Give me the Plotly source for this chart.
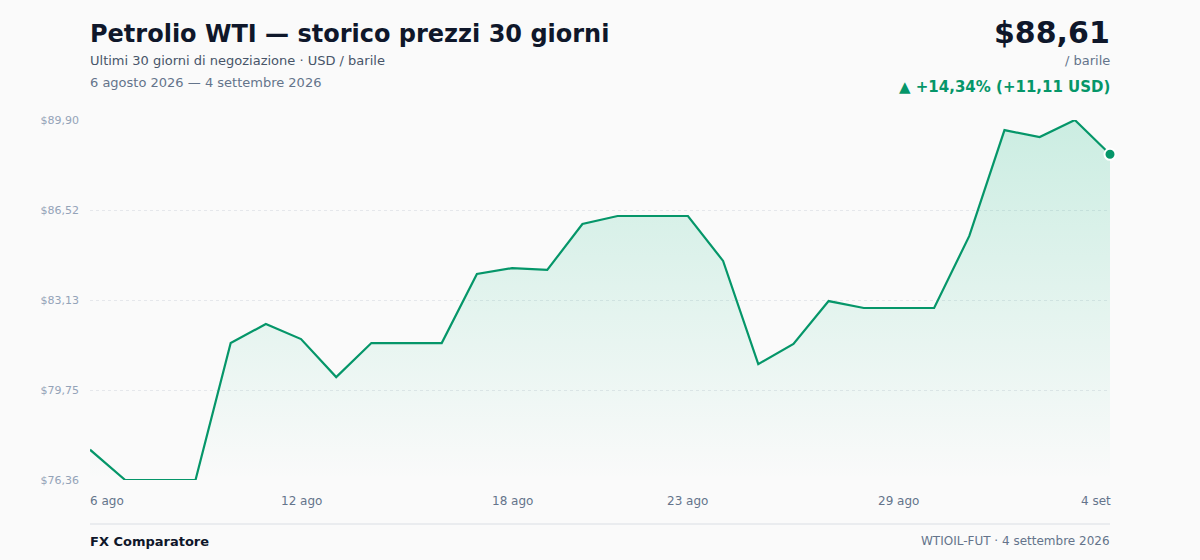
import numpy as np
import pandas as pd
import plotly.graph_objects as go

# daily WTI closes, 6 Aug 2026 -> 4 Sep 2026
dates = pd.date_range("2026-08-06", "2026-09-04", freq="D")
prices = [77.50, 76.36, 76.36, 76.36, 81.51, 82.23, 81.66, 80.23, 81.51, 81.51,
          81.51, 84.11, 84.33, 84.26, 85.99, 86.29, 86.29, 86.29, 84.60, 80.72,
          81.48, 83.09, 82.83, 82.83, 82.83, 85.54, 89.52, 89.26, 89.90, 88.61]

tick_dates = ["2026-08-06", "2026-08-12", "2026-08-18", "2026-08-23", "2026-08-29", "2026-09-04"]
tick_text = ["6 ago", "12 ago", "18 ago", "23 ago", "29 ago", "4 set"]

GREEN = "#059669"
FONT = "DejaVu Sans"
BG = "#fafafa"

ymin, ymax = min(prices), max(prices)
yticks = np.linspace(ymin, ymax, 5)
ytext = ["$" + f"{v:.2f}".replace(".", ",") for v in yticks]

change = prices[-1] - prices[0]
pct = change / prices[0] * 100

fig = go.Figure()

# invisible baseline so the fill stops at the bottom of the axis
fig.add_trace(go.Scatter(
    x=dates, y=[ymin] * len(dates), mode="lines",
    line=dict(width=0), hoverinfo="skip", showlegend=False, cliponaxis=False,
))
fig.add_trace(go.Scatter(
    x=dates, y=prices, mode="lines",
    line=dict(color=GREEN, width=2.2),
    fill="tonexty",
    fillgradient=dict(
        type="vertical",
        colorscale=[[0, "rgba(16,185,129,0.0)"], [1, "rgba(16,185,129,0.2)"]],
        start=ymin, stop=ymax,
    ),
    showlegend=False, cliponaxis=False,
    hovertemplate="%{x|%d/%m}: $%{y:.2f}<extra></extra>",
))
fig.add_trace(go.Scatter(
    x=[dates[-1]], y=[prices[-1]], mode="markers",
    marker=dict(color=GREEN, size=11, line=dict(color="white", width=2)),
    showlegend=False, cliponaxis=False, hoverinfo="skip",
))

annotations = []
for i, (d, t) in enumerate(zip(tick_dates, tick_text)):
    anchor, shift = "center", 0
    if i == 0:
        anchor, shift = "left", -2
    elif i == len(tick_dates) - 1:
        anchor, shift = "right", 3
    annotations.append(dict(
        x=d, y=0, xref="x", yref="paper", text=t, showarrow=False,
        xanchor=anchor, yanchor="middle", yshift=-21, xshift=shift,
        font=dict(family=FONT, size=12, color="#64748b"),
    ))

def ptext(text, x, ypx, anchor, size, color, bold=False):
    # ypx is the pixel row in the 560px page; plot area spans rows 120..480
    if bold:
        text = "<b>" + text + "</b>"
    annotations.append(dict(
        x=x, y=(480 - ypx) / 360, xref="paper", yref="paper", text=text,
        showarrow=False, xanchor=anchor, yanchor="middle",
        xshift=-2 if anchor == "left" else 2,
        font=dict(family=FONT, size=size, color=color),
    ))

ptext("Petrolio WTI — storico prezzi 30 giorni", 0, 34, "left", 24, "#0f172a", True)
ptext("Ultimi 30 giorni di negoziazione · USD / barile", 0, 61, "left", 13, "#475569")
ptext("6 agosto 2026 — 4 settembre 2026", 0, 83, "left", 13, "#64748b")
ptext("$" + f"{prices[-1]:.2f}".replace(".", ","), 1, 32, "right", 30, "#0f172a", True)
ptext("/ barile", 1, 61, "right", 13, "#64748b")
ptext("▲ +" + f"{pct:.2f}".replace(".", ",") + "% (+" + f"{change:.2f}".replace(".", ",") + " USD)",
      1, 87, "right", 15, GREEN, True)
ptext("FX Comparatore", 0, 541, "left", 13, "#0f172a", True)
ptext("WTIOIL-FUT · 4 settembre 2026", 1, 541, "right", 12, "#64748b")

fig.update_layout(
    width=1200, height=560,
    margin=dict(l=90, r=90, t=120, b=80),
    paper_bgcolor=BG, plot_bgcolor=BG,
    font=dict(family=FONT),
    annotations=annotations,
    shapes=[dict(type="line", xref="paper", yref="paper", x0=0, x1=1,
                 y0=-44 / 360, y1=-44 / 360, line=dict(color="#e5e7eb", width=1.5))],
    xaxis=dict(range=[dates[0], dates[-1]], showgrid=False, zeroline=False,
               showticklabels=False, showline=False, fixedrange=True),
    yaxis=dict(range=[ymin, ymax], tickvals=yticks, ticktext=ytext,
               showgrid=True, gridcolor="#e5e7eb", griddash="dot", gridwidth=1,
               zeroline=False, showline=False, ticks="", ticklabelstandoff=10,
               tickfont=dict(family=FONT, size=11, color="#94a3b8")),
    hovermode="closest",
)

# drop the browser's default page margin so the figure sits flush at 0,0
fig.write_html("out.html", config={"displayModeBar": False},
               post_script="document.body.style.margin='0';document.body.style.background='%s';" % BG)
